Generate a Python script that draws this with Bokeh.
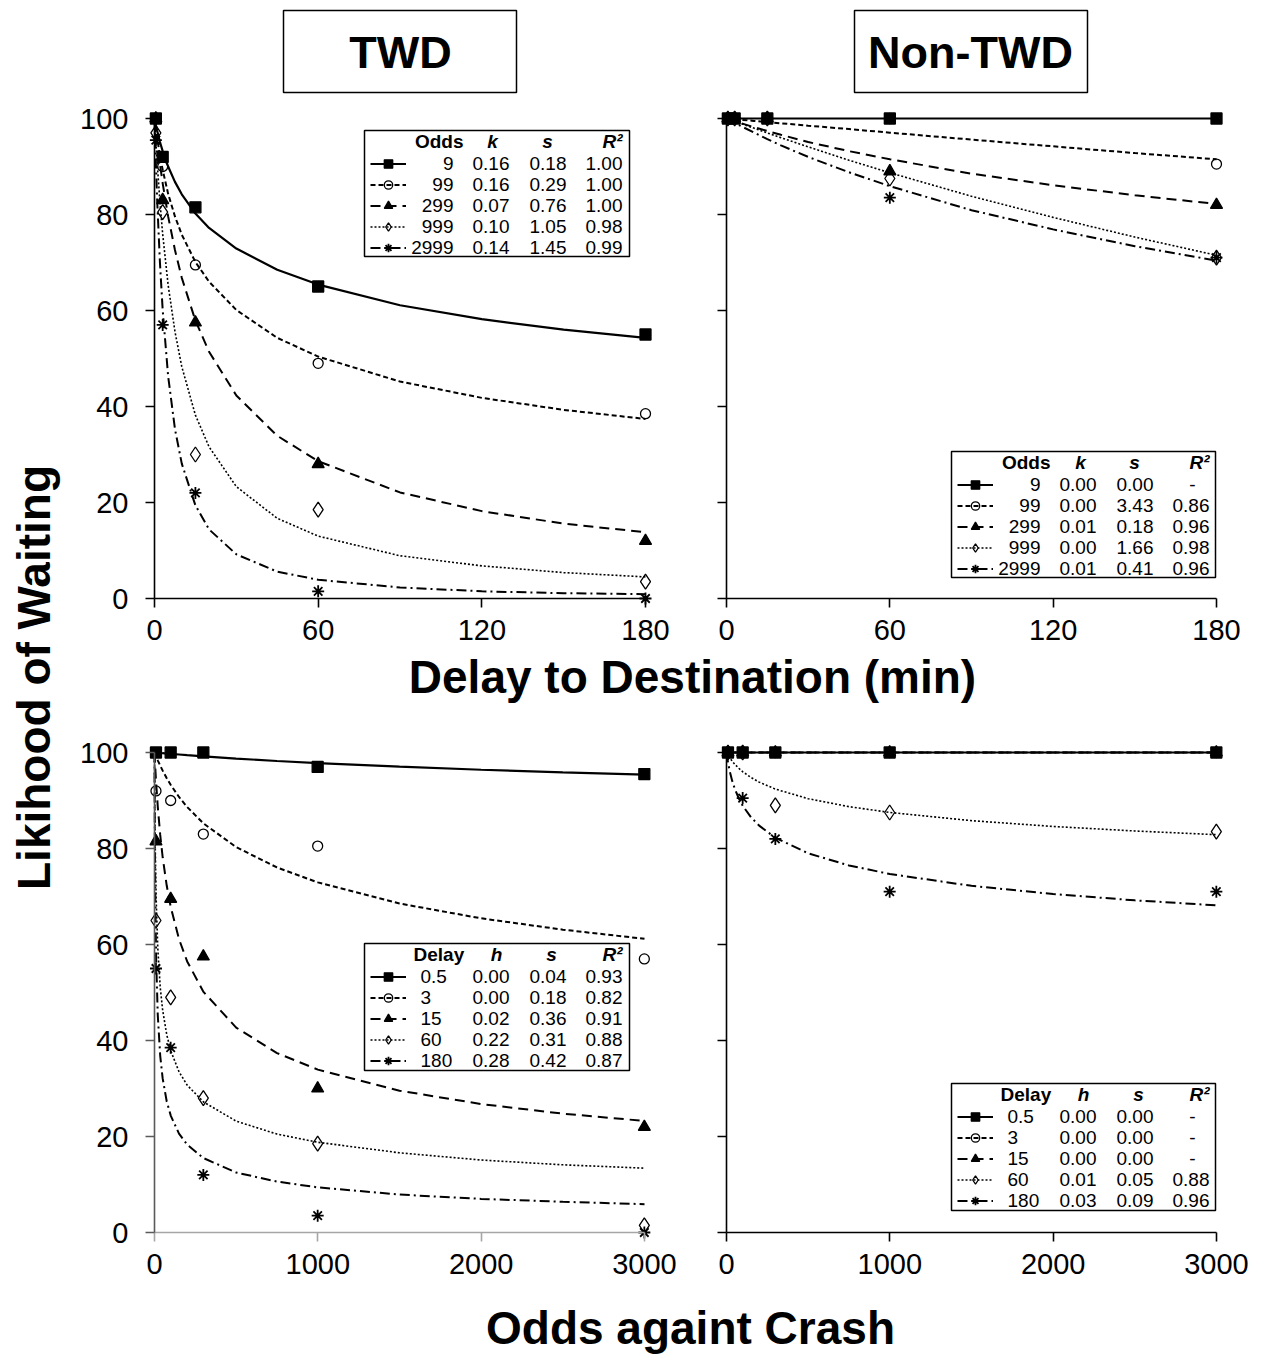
import math
from bokeh.plotting import figure
from bokeh.models import (Range1d, LinearAxis, FixedTicker, Label, BoxAnnotation,
                          Legend, LegendItem)
from bokeh.layouts import row, column
from bokeh.embed import file_html
from bokeh.resources import INLINE

FONT = "Liberation Sans"
TICK_FONT = "Liberation Sans"

# ---------------- data ----------------
delays = [0.5, 3, 15, 60, 180]
odds = [9, 99, 299, 999, 2999]
delay_labels = ["0.5", "3", "15", "60", "180"]
odds_labels = ["9", "99", "299", "999", "2999"]

# TWD: likelihood of waiting (%) for each odds level, across delays
twd_odds9 = [100, 92, 81.5, 65, 55]
twd_odds99 = [100, 90, 69.5, 49, 38.5]
twd_odds299 = [100, 83, 57.5, 28, 12]
twd_odds999 = [97, 80.5, 30, 18.5, 3.5]
twd_odds2999 = [95.5, 57, 22, 1.5, 0]
# Non-TWD
ntwd_odds9 = [100, 100, 100, 100, 100]
ntwd_odds99 = [100, 100, 100, 100, 90.5]
ntwd_odds299 = [100, 100, 100, 89, 82]
ntwd_odds999 = [100, 100, 100, 87.5, 71]
ntwd_odds2999 = [100, 100, 100, 83.5, 71]

twd_by_odds = [twd_odds9, twd_odds99, twd_odds299, twd_odds999, twd_odds2999]
ntwd_by_odds = [ntwd_odds9, ntwd_odds99, ntwd_odds299, ntwd_odds999, ntwd_odds2999]
twd_by_delay = [list(c) for c in zip(*twd_by_odds)]
ntwd_by_delay = [list(c) for c in zip(*ntwd_by_odds)]

# fitted curves
twd_delay_grid = [0, 0.5, 1, 2, 3, 5, 7.5, 10, 15, 20, 30, 45, 60, 90, 120, 150, 180]
twd_fit_odds9 = [100, 98.6, 97.4, 95.1, 93.2, 90.0, 86.8, 84.2, 80.2, 77.2, 72.9, 68.5, 65.4, 61.1, 58.2, 56.0, 54.3]
twd_fit_odds99 = [100, 97.8, 95.8, 92.3, 89.3, 84.3, 79.6, 75.8, 70.1, 66.0, 60.1, 54.3, 50.4, 45.2, 41.8, 39.3, 37.4]
twd_fit_odds299 = [100, 97.4, 95.0, 90.5, 86.5, 79.6, 72.6, 66.8, 57.9, 51.4, 42.3, 33.9, 28.6, 22.1, 18.2, 15.6, 13.8]
twd_fit_odds999 = [100, 95.0, 90.5, 82.6, 75.9, 65.3, 55.6, 48.3, 38.2, 31.6, 23.3, 16.7, 13.0, 8.9, 6.8, 5.4, 4.5]
twd_fit_odds2999 = [100, 90.7, 82.7, 69.9, 60.1, 46.3, 35.3, 28.1, 19.4, 14.4, 9.2, 5.6, 3.9, 2.3, 1.5, 1.1, 0.9]

ntwd_delay_grid = [0, 5, 10, 15, 20, 30, 45, 60, 90, 120, 150, 180]
ntwd_fit_odds9 = [100, 100, 100, 100, 100, 100, 100, 100, 100, 100, 100, 100]
ntwd_fit_odds99 = [100, 99.75, 99.5, 99.25, 99.0, 98.5, 97.8, 97.05, 95.6, 94.2, 92.8, 91.5]
ntwd_fit_odds299 = [100, 99.1, 98.2, 97.4, 96.6, 95.1, 93.2, 91.5, 88.5, 86.1, 84.0, 82.2]
ntwd_fit_odds999 = [100, 99.0, 98.0, 97.0, 96.0, 94.1, 91.3, 88.7, 83.8, 79.4, 75.3, 71.5]
ntwd_fit_odds2999 = [100, 98.5, 97.1, 95.7, 94.4, 92.0, 88.8, 85.9, 80.9, 76.9, 73.4, 70.4]

odds_grid = [0, 2, 5, 10, 20, 35, 50, 75, 100, 150, 200, 300, 500, 750, 1000, 1500, 2000, 2500, 3000]
twd_fit_delay05 = [100, 99.99, 99.99, 99.97, 99.94, 99.9, 99.85, 99.78, 99.71, 99.58, 99.44, 99.19, 98.74, 98.23, 97.79, 97.04, 96.41, 95.87, 95.4]
twd_fit_delay3 = [100, 99.83, 99.58, 99.16, 98.37, 97.26, 96.22, 94.64, 93.22, 90.74, 88.64, 85.22, 80.29, 76.05, 72.94, 68.54, 65.45, 63.09, 61.19]
twd_fit_delay15 = [100, 98.62, 96.67, 93.73, 88.74, 82.83, 78.18, 72.23, 67.71, 61.13, 56.47, 50.12, 42.69, 37.37, 33.93, 29.55, 26.76, 24.76, 23.24]
twd_fit_delay60 = [100, 89.3, 79.5, 69.7, 59.3, 51.1, 46.3, 41.2, 37.8, 33.5, 30.7, 27.2, 23.2, 20.5, 18.8, 16.6, 15.1, 14.1, 13.4]
twd_fit_delay180 = [100, 83.0, 69.2, 57.1, 45.3, 36.8, 32.1, 27.3, 24.3, 20.6, 18.3, 15.5, 12.5, 10.6, 9.4, 7.9, 7.0, 6.4, 5.9]

ntwd_fit_delay05 = [100] * 19
ntwd_fit_delay3 = [100] * 19
ntwd_fit_delay15 = [100] * 19
ntwd_fit_delay60 = [100, 99.88, 99.70, 99.41, 98.89, 98.19, 97.59, 96.72, 95.98, 94.79, 93.83, 92.37, 90.38, 88.72, 87.51, 85.80, 84.59, 83.65, 82.88]
ntwd_fit_delay180 = [100, 99.51, 98.82, 97.79, 96.08, 94.08, 92.51, 90.47, 88.88, 86.51, 84.76, 82.22, 79.00, 76.47, 74.69, 72.22, 70.51, 69.20, 68.15]

# legend tables
twd_delay_k = ["0.16", "0.16", "0.07", "0.10", "0.14"]
twd_delay_s = ["0.18", "0.29", "0.76", "1.05", "1.45"]
twd_delay_r2 = ["1.00", "1.00", "1.00", "0.98", "0.99"]
ntwd_delay_k = ["0.00", "0.00", "0.01", "0.00", "0.01"]
ntwd_delay_s = ["0.00", "3.43", "0.18", "1.66", "0.41"]
ntwd_delay_r2 = ["-", "0.86", "0.96", "0.98", "0.96"]
twd_odds_h = ["0.00", "0.00", "0.02", "0.22", "0.28"]
twd_odds_s = ["0.04", "0.18", "0.36", "0.31", "0.42"]
twd_odds_r2 = ["0.93", "0.82", "0.91", "0.88", "0.87"]
ntwd_odds_h = ["0.00", "0.00", "0.00", "0.01", "0.03"]
ntwd_odds_s = ["0.00", "0.00", "0.00", "0.05", "0.09"]
ntwd_odds_r2 = ["-", "-", "-", "0.88", "0.96"]

delay_ticks = [0, 60, 120, 180]
odds_ticks = [0, 1000, 2000, 3000]
y_ticks = [0, 20, 40, 60, 80, 100]

# ---------------- styles ----------------
STYLES = [
    dict(dash="solid", lw=2.2, marker="square", size=11, fill="black", mlw=1.3),
    dict(dash="5 3", lw=2.0, marker="circle", size=10, fill=None, mlw=1.3),
    dict(dash="10 6", lw=2.0, marker="triangle", size=12, fill="black", mlw=1.3),
    dict(dash="2 2", lw=1.6, marker="diamond", size=15, fill=None, mlw=1.3),
    dict(dash="10 4 2 4", lw=2.0, marker="asterisk", size=12, fill=None, mlw=1.8),
]
ROW_H = 21


def build_panel(W, H, fig_l, fig_t, x0, x1, y100, y0, xmax, xticks, show_ylab,
                fit_x, fits, pt_x, pts, leg, pads, xcol="black", ycol="black"):
    pl, pr, pt, pb = pads
    sx = (x1 - x0) / xmax
    sy = (y0 - y100) / 100.0
    p = figure(width=W, height=H,
               x_range=Range1d(-pl / sx, xmax + pr / sx),
               y_range=Range1d(-pb / sy, 100 + pt / sy),
               min_border_left=x0 - pl - fig_l,
               min_border_right=fig_l + W - (x1 + pr),
               min_border_top=y100 - pt - fig_t,
               min_border_bottom=fig_t + H - (y0 + pb),
               x_axis_type=None, y_axis_type=None,
               output_backend="svg", toolbar_location=None)
    p.outline_line_color = None

    xa = LinearAxis(ticker=FixedTicker(ticks=xticks), fixed_location=0, bounds=(0, xmax))
    ya = LinearAxis(ticker=FixedTicker(ticks=y_ticks), fixed_location=0, bounds=(0, 100))
    for ax, col in ((xa, xcol), (ya, ycol)):
        ax.major_tick_in = 0
        ax.major_tick_out = 9
        ax.minor_tick_in = 0
        ax.minor_tick_out = 0
        ax.axis_line_width = 1.6
        ax.axis_line_color = col
        ax.major_tick_line_width = 1.6
        ax.major_tick_line_color = col
        ax.major_label_text_font = TICK_FONT
        ax.major_label_text_font_size = "29px"
        ax.major_label_text_color = "black"
    xa.major_label_standoff = 12
    ya.major_label_standoff = 17
    if not show_ylab:
        ya.major_label_overrides = {t: "" for t in y_ticks}
    p.add_layout(xa, "below")
    p.add_layout(ya, "left")

    items = []
    for st, fy, py in zip(STYLES, fits, pts):
        lr = p.line(fit_x, fy, line_color="black", line_width=st["lw"], line_dash=st["dash"])
        sr = p.scatter(pt_x, py, marker=st["marker"], size=st["size"], line_color="black",
                       line_width=st["mlw"], fill_color=st["fill"])
        items.append(LegendItem(label=" ", renderers=[lr, sr]))

    # ---- table legend ----
    bl, bt, br, bb = leg["box"]

    def X(ix):
        return (ix - x0) / sx

    def Y(iy):
        return (y0 - iy) / sy

    p.add_layout(BoxAnnotation(left=X(bl), right=X(br), top=Y(bt), bottom=Y(bb),
                               fill_alpha=0, line_color="black", line_alpha=1,
                               line_width=1.5))
    legend = Legend(items=items,
                    location=(bl + 6 - (x0 - pl), (y0 + pb) - (bt + 33 - ROW_H / 2 + 5 * ROW_H)),
                    glyph_width=36, glyph_height=ROW_H, label_height=ROW_H,
                    spacing=0, padding=0, margin=0, label_standoff=0, label_width=1,
                    label_text_font_size="1px",
                    background_fill_alpha=0, border_line_alpha=0)
    p.add_layout(legend)

    def txt(ix, iy, t, align="right", style="normal"):
        p.add_layout(Label(x=X(ix), y=Y(iy), text=t, text_font=FONT, text_font_size="19px",
                           text_font_style=style, text_align=align, text_baseline="middle",
                           text_color="black"))

    hy = bt + 11
    first_word, kword = leg["header"]
    if leg["first_align"] == "right":
        txt(bl + 99, hy, first_word, "right", "bold")
    else:
        txt(bl + 49, hy, first_word, "left", "bold")
    txt(bl + leg["kx"], hy, kword, "center", "bold italic")
    txt(bl + leg["sx"], hy, "s", "center", "bold italic")
    txt(bl + 258, hy, "R²", "right", "bold italic")
    for i in range(5):
        ry = bt + 33 + ROW_H * i
        if leg["first_align"] == "right":
            txt(bl + 89, ry, leg["first"][i], "right")
        else:
            txt(bl + 56, ry, leg["first"][i], "left")
        txt(bl + 145, ry, leg["c1"][i], "right")
        txt(bl + 202, ry, leg["c2"][i], "right")
        r2 = leg["c3"][i]
        if r2 == "-":
            txt(bl + 241, ry, r2, "center")
        else:
            txt(bl + 258, ry, r2, "right")
    return p


def text_fig(W, H):
    f = figure(width=W, height=H, x_range=Range1d(0, W), y_range=Range1d(0, H),
               x_axis_type=None, y_axis_type=None, output_backend="svg",
               toolbar_location=None, min_border=0)
    f.outline_line_color = None
    return f


LEFT_PADS = (80, 36, 14, 50)
RIGHT_PADS = (14, 40, 14, 50)

tl = build_panel(622, 552, 68, 100, 154, 645, 118, 598, 180, delay_ticks, True,
                 twd_delay_grid,
                 [twd_fit_odds9, twd_fit_odds99, twd_fit_odds299, twd_fit_odds999, twd_fit_odds2999],
                 delays, twd_by_odds,
                 dict(box=(364, 130, 629, 256), header=("Odds", "k"), first_align="right",
                      first=odds_labels, c1=twd_delay_k, c2=twd_delay_s, c3=twd_delay_r2,
                      kx=128, sx=183), LEFT_PADS)
tr = build_panel(577, 552, 690, 100, 726, 1216, 118, 598, 180, delay_ticks, False,
                 ntwd_delay_grid,
                 [ntwd_fit_odds9, ntwd_fit_odds99, ntwd_fit_odds299, ntwd_fit_odds999, ntwd_fit_odds2999],
                 delays, ntwd_by_odds,
                 dict(box=(951, 451, 1215, 577), header=("Odds", "k"), first_align="right",
                      first=odds_labels, c1=ntwd_delay_k, c2=ntwd_delay_s, c3=ntwd_delay_r2,
                      kx=129, sx=183), RIGHT_PADS)
bl = build_panel(622, 580, 68, 710, 154, 644, 752, 1232, 3000, odds_ticks, True,
                 odds_grid,
                 [twd_fit_delay05, twd_fit_delay3, twd_fit_delay15, twd_fit_delay60, twd_fit_delay180],
                 odds, twd_by_delay,
                 dict(box=(364, 943, 629, 1070), header=("Delay", "h"), first_align="left",
                      first=delay_labels, c1=twd_odds_h, c2=twd_odds_s, c3=twd_odds_r2,
                      kx=132, sx=187), LEFT_PADS,
                 xcol="#a6a6a6", ycol="#5a5a5a")
br = build_panel(577, 580, 690, 710, 726, 1216, 752, 1232, 3000, odds_ticks, False,
                 odds_grid,
                 [ntwd_fit_delay05, ntwd_fit_delay3, ntwd_fit_delay15, ntwd_fit_delay60, ntwd_fit_delay180],
                 odds, ntwd_by_delay,
                 dict(box=(951, 1083, 1215, 1210), header=("Delay", "h"), first_align="left",
                      first=delay_labels, c1=ntwd_odds_h, c2=ntwd_odds_s, c3=ntwd_odds_r2,
                      kx=132, sx=187), RIGHT_PADS)

# header with the two boxed titles
header = text_fig(1199, 100)
for (l, r, cx, t) in ((215, 448, 332, "TWD"), (786, 1019, 902, "Non-TWD")):
    header.add_layout(BoxAnnotation(left=l, right=r, bottom=8, top=90, fill_alpha=0,
                                    line_color="black", line_alpha=1, line_width=1.5))
    header.add_layout(Label(x=cx, y=48, text=t, text_font=FONT, text_font_size="45px",
                            text_font_style="bold", text_align="center", text_baseline="middle",
                            text_color="black"))

mid = text_fig(1199, 58)
mid.add_layout(Label(x=624, y=34, text="Delay to Destination (min)", text_font=FONT,
                     text_font_size="46px", text_font_style="bold", text_align="center",
                     text_baseline="middle", text_color="black"))

bottom = text_fig(1199, 65)
bottom.add_layout(Label(x=622, y=28, text="Odds againt Crash", text_font=FONT,
                        text_font_size="46px", text_font_style="bold", text_align="center",
                        text_baseline="middle", text_color="black"))

ylab = text_fig(68, 1355)
ylab.add_layout(Label(x=33, y=678, text="Likihood of Waiting", text_font=FONT,
                      text_font_size="46px", text_font_style="bold", text_align="center",
                      text_baseline="middle", angle=math.pi / 2, text_color="black"))

layout = row(ylab, column(header, row(tl, tr), mid, row(bl, br), bottom))

open("out.html", "w").write(file_html(layout, INLINE, title="Likelihood of Waiting"))
